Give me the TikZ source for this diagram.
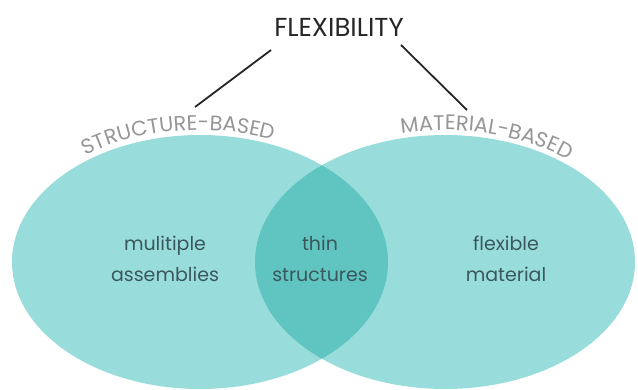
\documentclass[tikz,border=0pt]{standalone}
\usepackage{fontspec}
\setmainfont{Poppins}
\usepackage{xcolor}
\usepackage{tikz}
\usetikzlibrary{decorations.text}
\definecolor{setlight}{RGB}{152,221,219}
\definecolor{setdark}{RGB}{96,197,193}
\definecolor{labgray}{RGB}{150,150,150}
\definecolor{inktext}{RGB}{58,88,92}
\tikzstyle{setlabel}=[font=\fontsize{19pt}{31pt}\selectfont, text=inktext, align=center]
\tikzstyle{link}=[line width=1.8pt, black!85]

\begin{document}
\begin{tikzpicture}[x=1pt, y=1pt]

\useasboundingbox (0,0) rectangle (638,389);

% sets
\fill[setlight] (200,127) ellipse [x radius=188, y radius=127]; % structure
\fill[setlight] (445,127) ellipse [x radius=190, y radius=127]; % material
\begin{scope}
  \clip (200,127) ellipse [x radius=188, y radius=127];
  \fill[setdark] (445,127) ellipse [x radius=190, y radius=127]; % overlap
\end{scope}

% title and links
\node[font=\fontsize{26pt}{28pt}\selectfont, text=black!85] (flex) at (339,362) {FLEXIBILITY};
\coordinate (sbtop) at (271,339);
\coordinate (sbend) at (195,282);
\coordinate (mbtop) at (401,344);
\coordinate (mbend) at (467,279);
\draw[link] (sbtop) -- (sbend); % flexibility -> structure
\draw[link] (mbtop) -- (mbend); % flexibility -> material

% curved set names
\path[decorate, decoration={text along path, text align=center,
  text={|\fontsize{21pt}{21pt}\selectfont\color{labgray}|STRUCTURE-BASED}}]
  (200,127) ++(140:194 and 132) arc[start angle=140, end angle=55, x radius=194, y radius=132];
\path[decorate, decoration={text along path, text align=center,
  text={|\fontsize{21pt}{21pt}\selectfont\color{labgray}|MATERIAL-BASED}}]
  (445,127) ++(114:194 and 132) arc[start angle=114, end angle=38, x radius=194, y radius=132];

% contents
\node[setlabel] (assem) at (165,130) {mulitiple\\assemblies};
\node[setlabel] (thin) at (320,130) {thin\\structures};
\node[setlabel] (flexmat) at (506,130) {flexible\\material};

\end{tikzpicture}
\end{document}
